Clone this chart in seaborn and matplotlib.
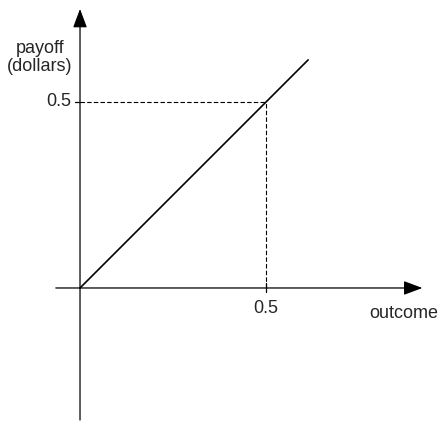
import matplotlib
matplotlib.use("Agg")
import matplotlib.pyplot as plt
import seaborn as sns
import pandas as pd

# payoff line of the option: payoff equals outcome
outcome = [0.0, 0.613]
payoff = [0.0, 0.613]
tick_value = 0.5
tick_label = "0.5"

sns.set_style("white")
plt.rcParams["font.family"] = ["Liberation Sans", "DejaVu Sans"]

df = pd.DataFrame({"outcome": outcome, "payoff": payoff})

fig = plt.figure(figsize=(4.41, 4.21), dpi=100)
ax = fig.add_axes([0, 0, 1, 1])
ax.axis("off")
ax.set_xlim(-0.215, 0.970)
ax.set_ylim(-0.3575, 0.774)

arrow = dict(arrowstyle="-|>,head_length=1.15,head_width=0.43",
             color="black", lw=0.9, shrinkA=0, shrinkB=0)
# x axis
ax.annotate("", xy=(0.92, 0), xytext=(-0.065, 0), arrowprops=arrow)
# y axis
ax.annotate("", xy=(0, 0.750), xytext=(0, -0.355), arrowprops=arrow)

# payoff line
sns.lineplot(data=df, x="outcome", y="payoff", ax=ax, color="black", lw=1.2)

# dashed guides
ax.plot([0, tick_value], [tick_value, tick_value], color="black", lw=0.8,
        ls=(0, (4, 2)))
ax.plot([tick_value, tick_value], [0, tick_value], color="black", lw=0.8,
        ls=(0, (4, 2)))

# ticks
ax.plot([tick_value, tick_value], [-0.011, 0.013], color="black", lw=0.9)
ax.plot([-0.013, 0], [tick_value, tick_value], color="black", lw=0.9)

fs = 13
ax.text(tick_value, -0.055, tick_label, ha="center", va="center", fontsize=fs)
ax.text(-0.057, tick_value, tick_label, ha="center", va="center", fontsize=fs)
ax.text(0.87, -0.068, "outcome", ha="center", va="center", fontsize=fs)
ax.text(-0.108, 0.62, "payoff\n(dollars)", ha="center", va="center",
        fontsize=fs, linespacing=1.1)

fig.savefig("out.png", dpi=100)
